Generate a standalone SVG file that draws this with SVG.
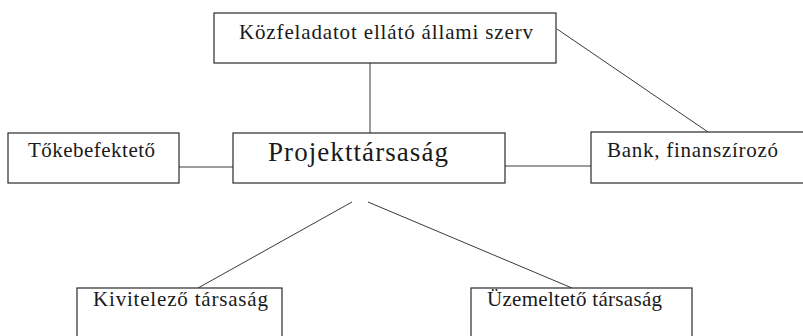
<svg xmlns="http://www.w3.org/2000/svg" width="803" height="336" viewBox="0 0 803 336">
<style>
.box{fill:#fff;stroke:#2a2a2a;stroke-width:1.2}
.ln{stroke:#3a3a3a;stroke-width:1;fill:none}
.t{font-family:"Liberation Serif","DejaVu Serif","Times New Roman",serif;fill:#1a1a1a;font-size:21px}
.big{font-size:27px}
</style>
<rect width="803" height="336" fill="#fff"/>
<g id="connectors">
<line class="ln" x1="370" y1="63" x2="370" y2="133"/>
<line class="ln" x1="557" y1="29" x2="708" y2="132"/>
<line class="ln" x1="179" y1="167" x2="233" y2="167"/>
<line class="ln" x1="505" y1="166" x2="591" y2="166"/>
<line class="ln" x1="352" y1="202" x2="198" y2="288"/>
<line class="ln" x1="368" y1="202" x2="572" y2="288"/>
</g>
<g id="node-kozfeladat">
<rect class="box" x="214" y="13" width="342" height="50"/>
<text class="t" x="239" y="39" textLength="294">Közfeladatot ellátó állami szerv</text>
</g>
<g id="node-tokebefekteto">
<rect class="box" x="8" y="133" width="171" height="50"/>
<text class="t" x="28" y="157" textLength="127">Tőkebefektető</text>
</g>
<g id="node-projekttarsasag">
<rect class="box" x="233" y="133" width="272" height="50"/>
<text class="t big" x="268" y="161" textLength="180">Projekttársaság</text>
</g>
<g id="node-bank">
<rect class="box" x="591" y="132" width="230" height="51"/>
<text class="t" x="607" y="157" textLength="171">Bank, finanszírozó</text>
</g>
<g id="node-kivitelezo">
<rect class="box" x="77" y="288" width="205" height="60"/>
<text class="t" x="93" y="306" textLength="175">Kivitelező társaság</text>
</g>
<g id="node-uzemelteto">
<rect class="box" x="471" y="288" width="221" height="60"/>
<text class="t" x="487" y="306" textLength="175">Üzemeltető társaság</text>
</g>
</svg>
